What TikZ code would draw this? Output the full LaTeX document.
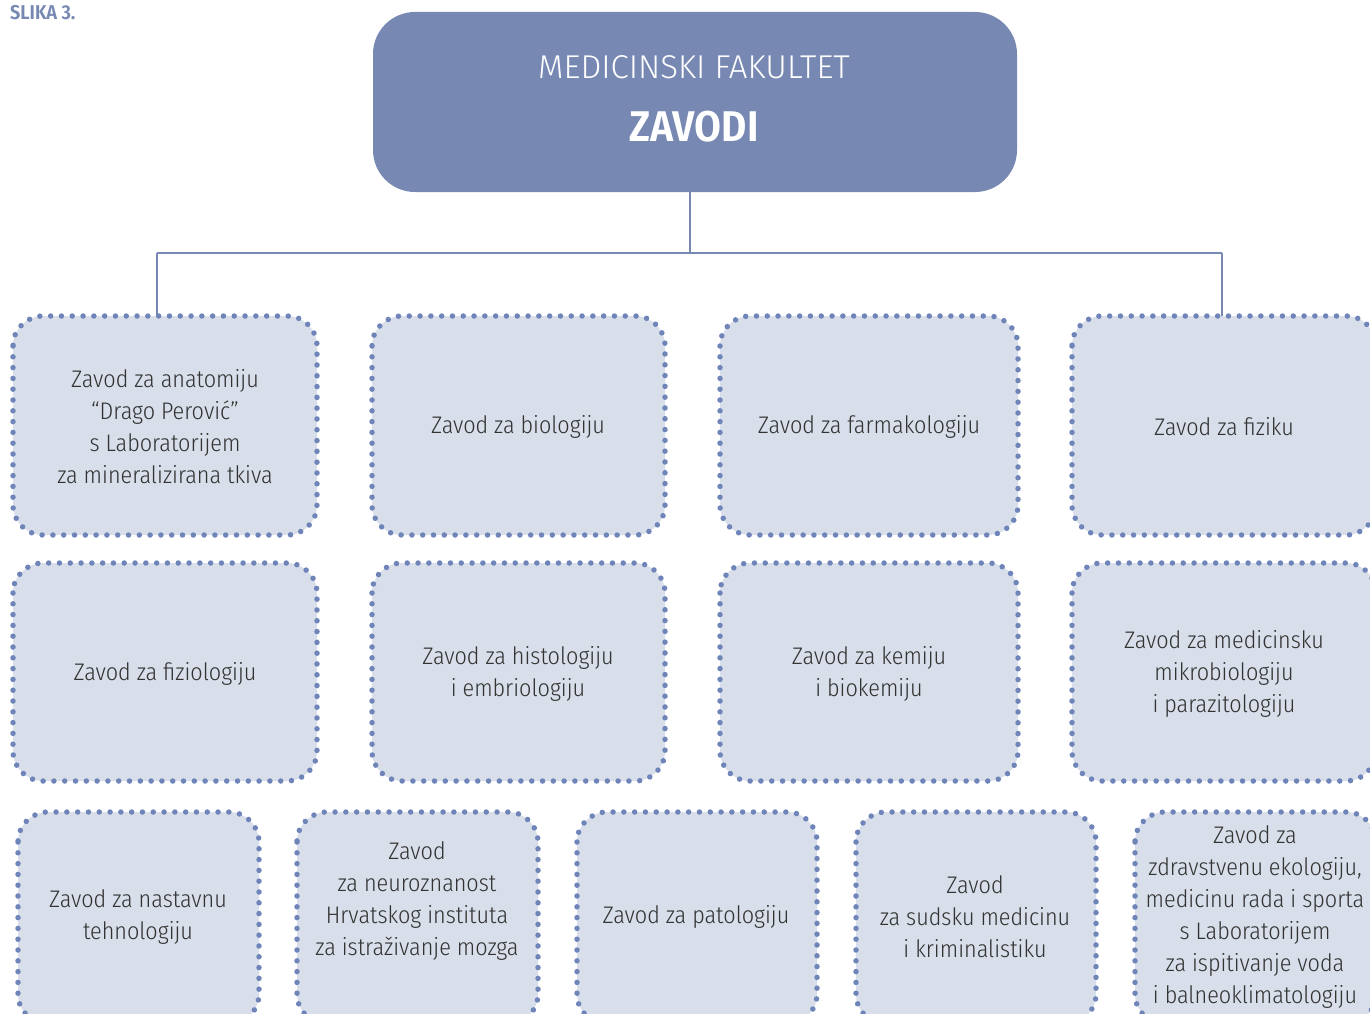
\documentclass[tikz,border=0pt]{standalone}
\usepackage{fontspec}
\setmainfont{Fira Sans}[UprightFont=* Light, BoldFont=* SemiBold]
\newfontfamily\condfont{Fira Sans Condensed}[UprightFont=* Light, BoldFont=* SemiBold]
\definecolor{head}{HTML}{7788B3}
\definecolor{boxfill}{HTML}{D9DFEA}
\definecolor{dotc}{HTML}{6F84B8}
\definecolor{txt}{HTML}{333333}
\begin{document}
\begin{tikzpicture}[x=1pt,y=-1pt,
  unit/.style={draw=dotc, fill=boxfill, line width=5.5pt, line cap=round,
    dash pattern=on 0pt off 10.8pt, rounded corners=30pt},
  lbl/.style={text=txt, align=center, font=\condfont\fontsize{24}{32}\selectfont},
  conn/.style={draw=head, line width=1.5pt}]
\useasboundingbox (0,0) rectangle (1370,1014);
% title
\node[anchor=north west, text=head, font=\condfont\bfseries\fontsize{20}{22}\selectfont, inner sep=0pt] (cap) at (10,5) {SLIKA 3.};
\fill[head, rounded corners=42pt] (373,12) rectangle (1017,192);
\node[text=white, font=\fontsize{33}{36}\selectfont] (t1) at (694,67) {MEDICINSKI FAKULTET};
\node[text=white, font=\condfont\bfseries\fontsize{43}{46}\selectfont] (t2) at (694,127) {ZAVODI};
% connectors
\coordinate (ctop) at (690,192);
\coordinate (cmid) at (690,253);
\coordinate (cl) at (157,253);
\coordinate (cr) at (1222,253);
\coordinate (bl) at (157,316);
\coordinate (br) at (1222,316);
\draw[conn] (ctop) -- (cmid);
\draw[conn] (cl) -- (cr);
\draw[conn] (cl) -- (bl);
\draw[conn] (cr) -- (br);
% row 1
\path[unit] (13,316) rectangle (317,535);
\path[unit] (372,316) rectangle (665,535);
\path[unit] (720,316) rectangle (1018,535);
\path[unit] (1072,316) rectangle (1376,535);
\node[lbl] (a1) at (165,427) {Zavod za anatomiju\\“Drago Perović”\\s Laboratorijem\\za mineralizirana tkiva};
\node[lbl] (a2) at (518,427) {Zavod za biologiju};
\node[lbl] (a3) at (869,427) {Zavod za farmakologiju};
\node[lbl] (a4) at (1224,427) {Zavod za fiziku};
% row 2
\path[unit] (13,563) rectangle (317,781);
\path[unit] (372,563) rectangle (665,781);
\path[unit] (720,563) rectangle (1018,781);
\path[unit] (1072,563) rectangle (1376,781);
\node[lbl] (b1) at (165,674) {Zavod za fiziologiju};
\node[lbl] (b2) at (518,674) {Zavod za histologiju\\i embriologiju};
\node[lbl] (b3) at (869,674) {Zavod za kemiju\\i biokemiju};
\node[lbl] (b4) at (1224,674) {Zavod za medicinsku\\mikrobiologiju\\i parazitologiju};
% row 3
\path[unit] (18,812) rectangle (259,1024);
\path[unit] (297,812) rectangle (538,1024);
\path[unit] (577,812) rectangle (817,1024);
\path[unit] (856,812) rectangle (1096,1024);
\path[unit] (1135,812) rectangle (1376,1024);
\node[lbl] (c1) at (138,917) {Zavod za nastavnu\\tehnologiju};
\node[lbl] (c2) at (417,901) {Zavod\\za neuroznanost\\Hrvatskog instituta\\za istraživanje mozga};
\node[lbl] (c3) at (696,917) {Zavod za patologiju};
\node[lbl] (c4) at (975,917) {Zavod\\za sudsku medicinu\\i kriminalistiku};
\node[lbl] (c5) at (1255,917) {Zavod za\\zdravstvenu ekologiju,\\medicinu rada i sporta\\s Laboratorijem\\za ispitivanje voda\\i balneoklimatologiju};
\end{tikzpicture}
\end{document}
